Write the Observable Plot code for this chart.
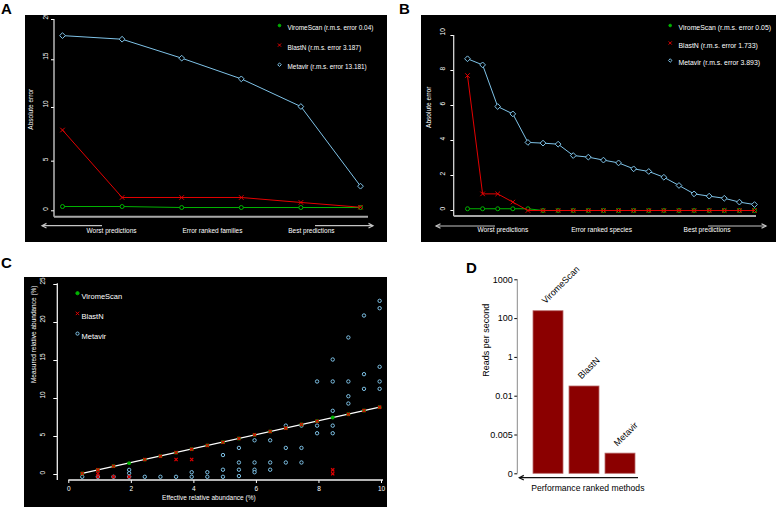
<!DOCTYPE html>
<html><head><meta charset="utf-8">
<script src="https://cdn.jsdelivr.net/npm/d3@7"></script>
<script src="https://cdn.jsdelivr.net/npm/@observablehq/plot@0.6"></script>
<style>
html,body{margin:0;padding:0;background:#fff}
body{position:relative;width:778px;height:507px;overflow:hidden;font-family:"Liberation Sans",Arial,sans-serif}
.panel{position:absolute}
.letter{position:absolute;font-weight:bold;font-size:15px;line-height:15px;color:#000}
</style></head><body>
<div class="letter" style="left:1px;top:1px">A</div>
<div class="letter" style="left:399px;top:1px">B</div>
<div class="letter" style="left:1px;top:255px">C</div>
<div class="letter" style="left:466px;top:260px">D</div>
<div class="panel" id="pA" style="left:25px;top:15px"></div>
<div class="panel" id="pB" style="left:421px;top:15px"></div>
<div class="panel" id="pC" style="left:24px;top:277px"></div>
<div class="panel" id="pD" style="left:480px;top:255px"></div>
<script>
// ---------- Panel A: error-ranked families ----------
const ranksA = [1, 2, 3, 4, 5, 6];
const viromeA = [0.43, 0.43, 0.33, 0.33, 0.33, 0.33];
const blastA = [7.9, 1.34, 1.34, 1.34, 0.84, 0.36];
const metavirA = [18.0, 17.55, 15.2, 13.0, 10.1, 2.48];
const ticksA = [0, 5, 10, 15, 20];
const tickSpotsA = [0, 5.19, 10.8, 15.79, 20];   // the original axis has unevenly spaced ticks
const legendA = ["ViromeScan (r.m.s. error 0.04)", "BlastN (r.m.s. error 3.187)", "Metavir (r.m.s. error 13.181)"];
const bottomA = ["Worst predictions", "Error ranked families", "Best predictions"];

// ---------- Panel B: error-ranked species ----------
const ranksB = [1, 2, 3, 4, 5, 6, 7, 8, 9, 10, 11, 12, 13, 14, 15, 16, 17, 18, 19, 20];
const viromeB = [0.1, 0.1, 0.1, 0.1, 0.1, 0, 0, 0, 0, 0, 0, 0, 0, 0, 0, 0, 0, 0, 0, 0];
const blastB = [7.71, 0.95, 0.95, 0.48, 0, 0, 0, 0, 0, 0, 0, 0, 0, 0, 0, 0, 0, 0, 0, 0];
const metavirB = [8.67, 8.32, 5.94, 5.52, 3.89, 3.85, 3.79, 3.14, 3.05, 2.88, 2.72, 2.38, 2.23, 1.90, 1.43, 0.95, 0.82, 0.70, 0.48, 0.34];
const ticksB = [0, 2, 4, 6, 8, 10];
const legendB = ["ViromeScan (r.m.s. error 0.05)", "BlastN (r.m.s. error 1.733)", "Metavir (r.m.s. error 3.893)"];
const bottomB = ["Worst predictions", "Error ranked species", "Best predictions"];

// ---------- Panel C: effective vs measured abundance ----------
const abundanceC = [0.43, 0.93, 1.43, 1.93, 2.43, 2.93, 3.43, 3.93, 4.43, 4.93, 5.44, 5.94, 6.44, 6.94, 7.44, 7.94, 8.44, 8.94, 9.44, 9.94];
const viromeC = [0.13, 0.61, 1.09, 1.49, 1.97, 2.41, 2.89, 3.33, 3.82, 4.25, 4.74, 5.22, 5.66, 6.1, 6.58, 7.01, 7.5, 7.93, 8.42, 8.86];
const blastAbC = [0.43, 0.93, 0.93, 0.93, 1.43, 1.43, 1.93, 2.43, 2.93, 3.43, 3.43, 3.93, 3.93, 4.43, 4.93, 5.44, 5.94, 6.44, 6.94, 7.44, 7.94, 8.44, 8.44, 8.94, 9.44, 9.94];
const blastC = [0.13, 0.61, 0.13, -0.3, 1.09, -0.3, -0.3, 1.97, 2.41, 2.89, 1.97, 3.33, 1.97, 3.82, 4.25, 4.74, 5.22, 5.66, 6.1, 6.58, 7.01, 0.61, 0.09, 7.93, 8.42, 8.86];
const metavirAbC = [0.43, 0.93, 1.43, 1.93, 1.93, 1.93, 2.43, 2.93, 3.43, 3.93, 3.93, 4.43, 4.43, 4.93, 4.93, 4.93,
  5.44, 5.44, 5.44, 5.44, 5.94, 5.94, 5.94, 5.94, 6.44, 6.44, 6.44, 6.94, 6.94, 6.94, 7.44, 7.44, 7.44,
  7.94, 7.94, 7.94, 8.44, 8.44, 8.44, 8.44, 8.44, 8.94, 8.94, 8.94, 8.94, 9.44, 9.44, 9.44, 9.94, 9.94, 9.94, 9.94, 9.94];
const metavirC = [-0.3, -0.3, -0.3, 0.61, 0.17, -0.3, -0.3, -0.3, -0.3, 0.3, -0.3, 0.3, -0.3, 2.56, 0.63, -0.3,
  3.5, 1.58, 0.63, -0.2, 4.5, 1.58, 0.63, 0.3, 4.5, 1.58, 0.63, 6.43, 3.5, 1.58, 6.43, 3.5, 1.58,
  12.24, 6.43, 5.43, 15.13, 12.24, 8.38, 6.43, 5.43, 18.03, 12.24, 10.3, 9.34, 20.92, 13.2, 11.27, 22.85, 21.88, 14.17, 12.24, 11.27];
const ticksCx = [0, 2, 4, 6, 8, 10];
const ticksCy = [0, 5, 10, 15, 20, 25];
const legendC = ["ViromeScan", "BlastN", "Metavir"];

// ---------- Panel D: speed ----------
const methods = ["ViromeScan", "BlastN", "Metavir"];
const readsAxisPos = [4.19, 2.25, 0.52];          // bar tops, in axis-tick units
const readsTickPos = [0, 1, 2, 3, 4, 5];
const readsTickLabels = ["0", "0.005", "0.01", "1", "100", "1000"];

// ---------- helpers ----------
const col = {virome: "#00b400", blast: "#e40000", metavir: "#7fc3e8"};
const FONT = "Liberation Sans, Arial, Helvetica, sans-serif";
const warpA = d3.scaleLinear().domain(ticksA).range(tickSpotsA);
const ident = d => d;

function guides(draw) {
  return (index, scales, values, dims) => {
    const {width, height, marginTop, marginRight, marginBottom, marginLeft} = dims;
    const g = d3.create("svg:g").attr("fill", "none");
    draw({g, L: marginLeft, R: width - marginRight, T: marginTop, B: height - marginBottom, scales});
    return g.node();
  };
}
function seg(g, x1, y1, x2, y2, stroke, w) {
  g.append("line").attr("x1", x1).attr("y1", y1).attr("x2", x2).attr("y2", y2)
    .attr("stroke", stroke).attr("stroke-width", w);
}
function arrow(g, xTail, xHead, y, stroke) {
  seg(g, xTail, y, xHead, y, stroke, 1.2);
  const d = Math.sign(xHead - xTail);
  g.append("path").attr("d", `M${xHead - d * 4.5},${y - 2.3}L${xHead},${y}L${xHead - d * 4.5},${y + 2.3}`)
    .attr("stroke", stroke).attr("stroke-width", 1.2);
}
function series(ranks, vals, color, symbol, r, warp = ident) {
  return [
    Plot.line(ranks, {x: ident, y: (d, i) => warp(vals[i]), stroke: color, strokeWidth: 1}),
    Plot.dot(ranks, {x: ident, y: (d, i) => warp(vals[i]), stroke: color, fill: "black", symbol, r, strokeWidth: 1})
  ];
}
function yTickLabels(ticks, dx, fill, warp = ident) {
  return Plot.text(ticks, {y: d => warp(d), text: d => String(d), frameAnchor: "left", dx, rotate: -90, fill});
}
function legend(labels, syms, o) {
  return labels.flatMap((label, i) => [
    Plot.dot([label], {frameAnchor: "top-left", dx: o.dxSym, dy: o.dy0 + i * o.gap, symbol: syms[i].symbol,
      r: syms[i].r, stroke: syms[i].stroke, fill: syms[i].fill, strokeWidth: 1}),
    Plot.text([label], {frameAnchor: "top-left", dx: o.dxText, dy: o.dy0 + i * o.gap, text: ident,
      textAnchor: "start", fill: "white", fontSize: o.fontSize})
  ]);
}
const legendSymsAB = [
  {symbol: "circle", r: 1.3, fill: col.virome, stroke: col.virome},
  {symbol: "times", r: 1.6, fill: "none", stroke: col.blast},
  {symbol: "diamond2", r: 1.6, fill: "none", stroke: col.metavir}
];
const darkStyle = size => ({background: "black", color: "white", fontFamily: FONT, fontSize: size, overflow: "visible"});
const noLabel = () => "";

// ---------- A ----------
const plotA = Plot.plot({
  width: 362, height: 227,
  marginLeft: 29, marginRight: 19, marginTop: 4, marginBottom: 25.3,
  style: darkStyle("6.5px"),
  x: {domain: [1, 6], range: [37, 335], axis: null},
  y: {domain: [0, 20], range: [195.3, 4], ticks: tickSpotsA, tickSize: 3, tickFormat: noLabel, label: null},
  marks: [
    guides(({g, L, R, T, B}) => {
      seg(g, L, T, L, B, "#e6e6e6", 1.2);
      seg(g, L, B, R, B, "#a8a8a8", 2);
      arrow(g, L + 48, L - 12, B + 9, "#c4c4c4");
      arrow(g, R - 53, R + 5, B + 9, "#c4c4c4");
    }),
    yTickLabels(ticksA, -8.3, "white", warpA),
    ...series(ranksA, viromeA, col.virome, "circle", 2, warpA),
    ...series(ranksA, blastA, col.blast, "times", 2.2, warpA),
    ...series(ranksA, metavirA, col.metavir, "diamond2", 2.6, warpA),
    ...legend(legendA, legendSymsAB, {dxSym: 225, dxText: 233, dy0: 6, gap: 19.6, fontSize: 6.4}),
    Plot.text(["Absolute error"], {frameAnchor: "left", dx: -24, dy: 11.3, rotate: -90, text: ident, fill: "white"}),
    Plot.text([bottomA[0]], {frameAnchor: "bottom-left", dx: 32, dy: 15.6, text: ident, fill: "white"}),
    Plot.text([bottomA[1]], {frameAnchor: "bottom", dx: 1, dy: 15.6, text: ident, fill: "white"}),
    Plot.text([bottomA[2]], {frameAnchor: "bottom-right", dx: -34, dy: 15.6, text: ident, fill: "white"})
  ]
});
document.getElementById("pA").append(plotA);

// ---------- B ----------
const plotB = Plot.plot({
  width: 355, height: 227,
  marginLeft: 32.7, marginRight: 20, marginTop: 20, marginBottom: 26,
  style: darkStyle("6.6px"),
  x: {domain: [1, 20], range: [46, 333], axis: null},
  y: {domain: [0, 10], range: [195, 20], ticks: ticksB, tickSize: 3.3, tickFormat: noLabel, label: null},
  marks: [
    guides(({g, L, R, T, B}) => {
      seg(g, L, T, L, B, "#e6e6e6", 1.2);
      seg(g, L, B, R, B, "#a8a8a8", 2);
      arrow(g, L + 41.3, L - 17.7, B + 10, "#c4c4c4");
      arrow(g, R - 48, R + 10, B + 10, "#c4c4c4");
    }),
    yTickLabels(ticksB, -11, "white"),
    ...series(ranksB, viromeB, col.virome, "circle", 2),
    ...series(ranksB, blastB, col.blast, "times", 2.2),
    ...series(ranksB, metavirB, col.metavir, "diamond2", 2.6),
    ...legend(legendB, legendSymsAB, {dxSym: 216, dxText: 224.3, dy0: -10, gap: 17.5, fontSize: 6.9}),
    Plot.text(["Absolute error"], {frameAnchor: "left", dx: -25.4, dy: 2, rotate: -90, text: ident, fill: "white"}),
    Plot.text([bottomB[0]], {frameAnchor: "bottom-left", dx: 23.3, dy: 15, text: ident, fill: "white"}),
    Plot.text([bottomB[1]], {frameAnchor: "bottom", dx: -3.8, dy: 15, text: ident, fill: "white"}),
    Plot.text([bottomB[2]], {frameAnchor: "bottom-right", dx: -26, dy: 15, text: ident, fill: "white"})
  ]
});
document.getElementById("pB").append(plotB);

// ---------- C ----------
const plotC = Plot.plot({
  width: 363, height: 230,
  marginLeft: 33.3, marginRight: 4, marginTop: 6.3, marginBottom: 27,
  style: darkStyle("6.5px"),
  x: {domain: [0, 10], range: [44.3, 357], ticks: ticksCx, tickSize: 3, tickPadding: 3, label: null},
  y: {domain: [0, 25], range: [197, 7], ticks: ticksCy, tickSize: 4, tickFormat: noLabel, label: null},
  marks: [
    guides(({g, L, T, B, scales}) => {
      seg(g, L, T, L, B, "#f0f0f0", 1.3);
      seg(g, scales.x(ticksCx[0]), B, scales.x(ticksCx[ticksCx.length - 1]) + 2, B, "#f0f0f0", 1.5);
    }),
    yTickLabels(ticksCy, -14.6, "white"),
    Plot.linearRegressionY(abundanceC, {x: ident, y: (d, i) => viromeC[i], stroke: "white", strokeWidth: 1.2, ci: 0}),
    Plot.dot(metavirAbC, {x: ident, y: (d, i) => metavirC[i], stroke: col.metavir, fill: "black", r: 1.7, strokeWidth: 1}),
    Plot.dot(abundanceC, {x: ident, y: (d, i) => viromeC[i], fill: col.virome, r: 1.9}),
    Plot.dot(blastAbC, {x: ident, y: (d, i) => blastC[i], symbol: "times", stroke: col.blast, r: 1.6, strokeWidth: 1.2}),
    ...legend(legendC, [
      {symbol: "circle", r: 1.6, fill: col.virome, stroke: col.virome},
      {symbol: "times", r: 1.7, fill: "none", stroke: col.blast},
      {symbol: "circle", r: 1.6, fill: "none", stroke: col.metavir}
    ], {dxSym: 19.7, dxText: 23.7, dy0: 9.4, gap: 20.2, fontSize: 7.5}),
    Plot.text(["Measured relative abundance (%)"], {frameAnchor: "left", dx: -24, dy: 0.9, rotate: -90, text: ident, fill: "white"}),
    Plot.text(["Effective relative abundance (%)"], {frameAnchor: "bottom", dx: -11.8, dy: 19.3, text: ident, fill: "white"})
  ]
});
document.getElementById("pC").append(plotC);

// ---------- D ----------
const plotD = Plot.plot({
  width: 170, height: 250,
  marginLeft: 37.3, marginRight: 10, marginTop: 24.3, marginBottom: 31.7,
  style: {background: "white", color: "black", fontFamily: FONT, fontSize: "9px", overflow: "visible"},
  x: {domain: methods, range: [52.7, 155.8], paddingInner: 0.16, paddingOuter: 0, axis: null},
  y: {domain: [0, 5], ticks: readsTickPos, tickFormat: i => readsTickLabels[i], tickSize: 3, tickPadding: 2, label: null},
  marks: [
    guides(({g, L, R, T, B}) => {
      seg(g, L, T, L, B, "#8a8a8a", 1);
      arrow(g, R - 2, L + 2, B + 4.4, "#111");
    }),
    Plot.barY(methods, {x: ident, y: (d, i) => readsAxisPos[i], fill: "#8b0000", stroke: "#b86a6a", strokeWidth: 0.8}),
    Plot.text(methods, {x: ident, y: (d, i) => readsAxisPos[i], text: ident, rotate: -45, textAnchor: "start",
      dx: -5, dy: -9, fill: "black", fontSize: 9}),
    Plot.text(["Reads per second"], {frameAnchor: "left", dx: -31.3, dy: 0, rotate: -90, text: ident, fill: "black"}),
    Plot.text(["Performance ranked methods"], {frameAnchor: "bottom", dx: 8.7, dy: 16.7, text: ident, fill: "black", fontSize: 8.6})
  ]
});
document.getElementById("pD").append(plotD);
</script></body></html>
